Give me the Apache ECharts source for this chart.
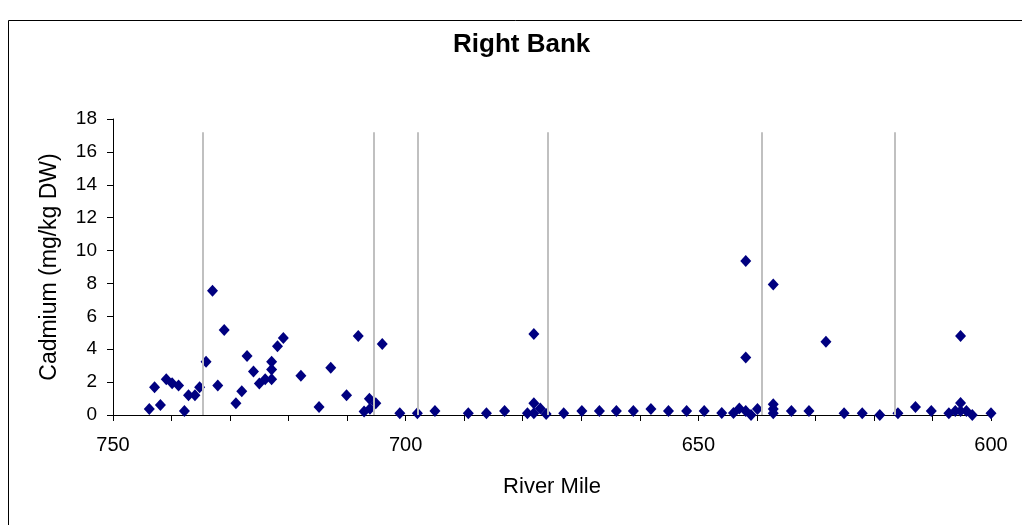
<!DOCTYPE html>
<html>
<head>
<meta charset="utf-8">
<script src="https://cdn.jsdelivr.net/npm/echarts@6/dist/echarts.min.js"></script>
<style>
  html, body { margin: 0; padding: 0; background: #fff; }
  #chart { width: 1022px; height: 525px; }
</style>
</head>
<body>
<div id="chart"></div>
<script>
// Sample locations (river mile) and cadmium concentration (mg/kg DW)
const riverMile = [
  743.8, 742.9, 741.9, 740.9, 739.9, 738.8, 737.8, 737.1, 736.0, 735.2,
  734.1, 733.0, 732.1, 731.0, 729.0, 728.0, 727.1, 726.0, 725.0, 724.0,
  722.9, 722.9, 722.9, 721.9, 720.9, 717.9, 714.8, 712.8, 710.1, 708.1,
  707.1, 706.2, 706.1, 705.1, 704.0, 701.0, 698.0, 695.0, 689.3, 686.2,
  683.1, 679.2, 678.1, 678.1, 678.1, 677.0, 676.0, 673.0, 669.9, 666.9,
  664.0, 661.1, 658.1, 655.1, 652.0, 649.0, 646.0, 644.0, 643.0, 641.9,
  641.9, 641.9, 641.0, 639.9, 637.2, 637.2, 637.2, 637.2, 634.1, 631.1,
  628.2, 625.1, 622.0, 619.0, 615.9, 612.9, 610.2, 607.2, 606.1, 605.2,
  605.2, 605.2, 604.2, 603.2, 600.0
];
const cadmium = [
  0.36, 1.68, 0.61, 2.17, 1.93, 1.80, 0.24, 1.20, 1.20, 1.68,
  3.24, 7.56, 1.80, 5.17, 0.71, 1.44, 3.59, 2.64, 1.91, 2.17,
  2.17, 2.76, 3.24, 4.18, 4.68, 2.39, 0.49, 2.88, 1.20, 4.80,
  0.22, 0.99, 0.38, 0.71, 4.32, 0.10, 0.10, 0.24, 0.10, 0.10,
  0.24, 0.10, 4.93, 0.71, 0.10, 0.40, 0.06, 0.10, 0.24, 0.24,
  0.24, 0.24, 0.36, 0.24, 0.24, 0.24, 0.12, 0.12, 0.40, 9.37,
  3.50, 0.24, 0.00, 0.36, 7.93, 0.65, 0.36, 0.10, 0.24, 0.24,
  4.46, 0.10, 0.10, 0.00, 0.10, 0.49, 0.24, 0.10, 0.24, 4.80,
  0.73, 0.24, 0.24, 0.00, 0.10
];
// Reference river miles marked by vertical gray lines
const markerMiles = [734.6, 705.4, 697.9, 675.8, 639.2, 616.5];
const markerTop = 17.2;

const FONT = '"Liberation Sans", Arial, sans-serif';

const points = riverMile.map((m, i) => [m, cadmium[i]]);
const markerLines = markerMiles.map(m => [
  { coord: [m, 0] },
  { coord: [m, markerTop] }
]);

const chart = echarts.init(document.getElementById('chart'), null, { renderer: 'canvas' });
chart.setOption({
  animation: false,
  backgroundColor: '#ffffff',
  title: {
    text: 'Right Bank',
    left: 448,
    top: 27,
    textStyle: { fontFamily: FONT, fontSize: 26, fontWeight: 'bold', color: '#000' }
  },
  graphic: [{
    type: 'rect',
    shape: { x: 8.5, y: 20.5, width: 1100, height: 600 },
    style: { fill: 'none', stroke: '#000', lineWidth: 1 },
    silent: true
  }],
  grid: { left: 113, right: 31, top: 119, bottom: 110, containLabel: false },
  xAxis: {
    type: 'value',
    inverse: true,
    min: 600,
    max: 750,
    interval: 10,
    name: 'River Mile',
    nameLocation: 'middle',
    nameGap: 61,
    nameTextStyle: { fontFamily: FONT, fontSize: 22, color: '#000' },
    axisLine: { onZero: false, lineStyle: { color: '#000', width: 1 } },
    axisTick: { show: true, inside: false, length: 6, lineStyle: { color: '#000' } },
    axisLabel: {
      margin: 20,
      fontFamily: FONT, fontSize: 20, color: '#000',
      formatter: v => (v % 50 === 0 ? String(v) : '')
    },
    splitLine: { show: false }
  },
  yAxis: {
    type: 'value',
    min: 0,
    max: 18,
    interval: 2,
    name: 'Cadmium (mg/kg DW)',
    nameLocation: 'middle',
    nameGap: 52,
    nameTextStyle: { fontFamily: FONT, fontSize: 23, color: '#000' },
    axisLine: { show: true, lineStyle: { color: '#000', width: 1 } },
    axisTick: { show: true, inside: false, length: 6, lineStyle: { color: '#000' } },
    axisLabel: { margin: 16, fontFamily: FONT, fontSize: 19, color: '#000' },
    splitLine: { show: false }
  },
  series: [
    {
      type: 'scatter',
      name: 'markers',
      data: [],
      z: 1,
      silent: true,
      markLine: {
        silent: true,
        symbol: ['none', 'none'],
        label: { show: false },
        lineStyle: { color: '#c0c0c0', width: 2, type: 'solid', opacity: 1 },
        data: markerLines
      }
    },
    {
      type: 'scatter',
      name: 'Cadmium',
      data: points,
      symbol: 'diamond',
      symbolSize: [11, 12],
      z: 3,
      itemStyle: { color: '#000080', opacity: 1 }
    }
  ]
});
</script>
</body>
</html>
